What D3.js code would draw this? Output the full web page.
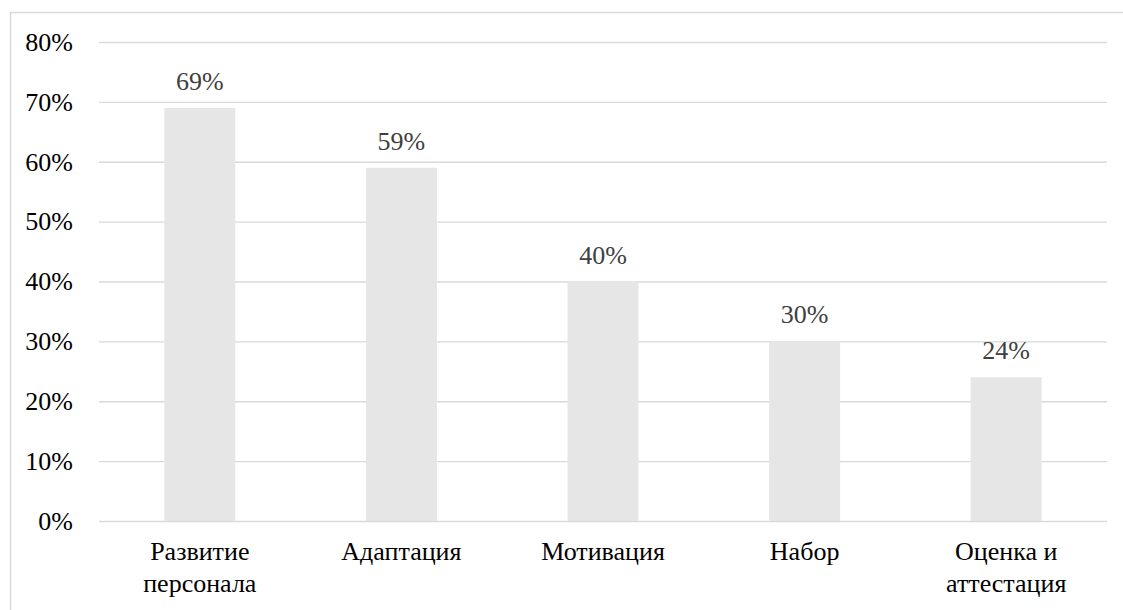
<!DOCTYPE html>
<html>
<head>
<meta charset="utf-8">
<script src="https://cdn.jsdelivr.net/npm/d3@7"></script>
</head>
<body style="margin:0; background:#fff">
<div id="chart"></div>
<script>
// Data
const categories = ["Развитие персонала", "Адаптация", "Мотивация", "Набор", "Оценка и аттестация"];
const values = [69, 59, 40, 30, 24];
const yTicks = [0, 10, 20, 30, 40, 50, 60, 70, 80];

const FONT = "Liberation Serif";
const FS = 26;
const W = 1123, H = 610;
const margin = { top: 42, right: 16, bottom: 89, left: 99 };
const width = W - margin.left - margin.right;
const height = H - margin.top - margin.bottom;

const root = d3.select("#chart")
    .append("svg")
    .attr("width", W)
    .attr("height", H)
    .style("display", "block");

// chart area border (cropped on right and bottom in the original)
root.append("rect")
    .attr("x", 10.5)
    .attr("y", 12.5)
    .attr("width", 1130)
    .attr("height", 640)
    .attr("fill", "none")
    .attr("stroke", "#d9d9d9")
    .attr("stroke-width", 1.5);

const svg = root.append("g")
    .attr("transform", `translate(${margin.left},${margin.top})`);

const x = d3.scaleBand()
    .domain(categories)
    .range([0, width])
    .padding(0);

const y = d3.scaleLinear()
    .domain([0, 80])
    .range([height, 0]);

// gridlines
svg.append("g")
    .attr("class", "grid")
    .call(d3.axisLeft(y).tickValues(yTicks).tickSize(-width).tickFormat(""))
    .call(g => g.select(".domain").remove())
    .selectAll("line")
    .attr("stroke", "#d9d9d9")
    .attr("stroke-width", 1.3);

// y axis labels
const yAxis = svg.append("g")
    .attr("class", "y-axis")
    .call(d3.axisLeft(y).tickValues(yTicks).tickSize(0).tickPadding(26).tickFormat(d => d + "%"))
    .call(g => g.select(".domain").remove())
    .attr("font-family", FONT)
    .attr("font-size", FS);

yAxis.selectAll("text")
    .attr("fill", "#000")
    .style("font-family", FONT)
    .style("font-size", FS + "px");

const barW = x.bandwidth() * 0.352;

// bars
svg.selectAll(".bar")
    .data(values)
    .enter()
    .append("rect")
    .attr("class", "bar")
    .attr("x", (d, i) => x(categories[i]) + x.bandwidth() / 2 - barW / 2)
    .attr("y", d => y(d))
    .attr("width", barW)
    .attr("height", d => height - y(d))
    .attr("fill", "#e7e6e6");

// value labels
svg.selectAll(".value-label")
    .data(values)
    .enter()
    .append("text")
    .attr("class", "value-label")
    .attr("x", (d, i) => x(categories[i]) + x.bandwidth() / 2)
    .attr("y", d => y(d) - 18)
    .attr("text-anchor", "middle")
    .attr("fill", "#404040")
    .style("font-family", FONT)
    .style("font-size", FS + "px")
    .text(d => d + "%");

// x axis labels
const xAxis = svg.append("g")
    .attr("class", "x-axis")
    .attr("transform", `translate(0,${height})`)
    .call(d3.axisBottom(x).tickSize(0).tickPadding(21))
    .call(g => g.select(".domain").remove())
    .attr("font-family", FONT)
    .attr("font-size", FS);

xAxis.selectAll("text")
    .attr("fill", "#000")
    .style("font-family", FONT)
    .style("font-size", FS + "px")
    .call(wrap, 150);

// Function to wrap long text
function wrap(text, width) {
    text.each(function () {
        var text = d3.select(this),
            words = text.text().split(/\s+/).reverse(),
            word,
            line = [],
            lineNumber = 0,
            lineHeight = 1.2, // ems
            y = text.attr("y"),
            dy = parseFloat(text.attr("dy")),
            tspan = text.text(null).append("tspan").attr("x", 0).attr("y", y).attr("dy", dy + "em");
        while (word = words.pop()) {
            line.push(word);
            tspan.text(line.join(" "));
            if (tspan.node().getComputedTextLength() > width) {
                line.pop();
                tspan.text(line.join(" "));
                line = [word];
                tspan = text.append("tspan").attr("x", 0).attr("y", y).attr("dy", ++lineNumber * lineHeight + dy + "em").text(word);
            }
        }
    });
}
</script>
</body>
</html>
